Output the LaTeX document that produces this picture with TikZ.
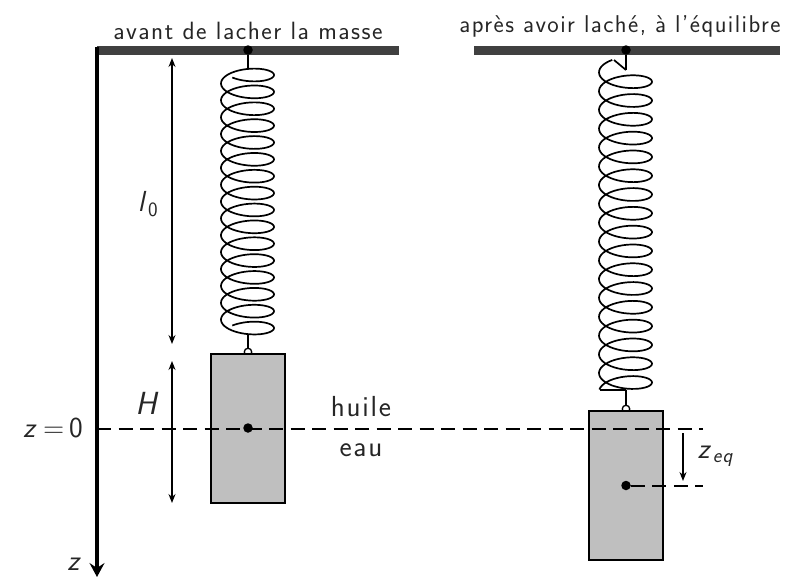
\documentclass[tikz,border=0pt]{standalone}
\usepackage{fontspec}
\setsansfont[LetterSpace=6]{Latin Modern Sans}
\renewcommand{\familydefault}{\sfdefault}
\usetikzlibrary{arrows.meta}
\newcommand{\mycoil}[6]{% cx, y of first tip, pitch, b, t start, t end
  \draw[springline] plot[domain=#5:#6,samples=700] ({#1+26.5*cos(\x)},{#2+#3*(\x/360)-#4*sin(\x)});}
\tikzset{
  bar/.style={fill=black!75,inner sep=0pt,minimum width=#1,minimum height=9pt},
  mass/.style={draw=black,fill=black!25,line width=1.8pt,inner sep=0pt,minimum width=74pt,minimum height=149pt},
  dotnode/.style={circle,fill=black,inner sep=0pt,minimum size=9.5pt},
  hook/.style={circle,draw=black,fill=white,line width=1.3pt,inner sep=0pt,minimum size=7.5pt},
  springline/.style={line width=1.7pt,line join=round},
  rodline/.style={line width=1.8pt},
  dashline/.style={line width=2pt,dash pattern=on 14pt off 7.5pt},
  dimarrow/.style={line width=1.3pt,{Stealth[length=9pt,width=7pt,inset=3pt]}-{Stealth[length=9pt,width=7pt,inset=3pt]}},
  onearrow/.style={line width=1.3pt,-{Stealth[length=9pt,width=7pt,inset=3pt]}},
  axisline/.style={line width=3.2pt,-{Stealth[length=14pt,width=15pt,inset=5pt]}},
  txt/.style={inner sep=0pt,text=black!85,font=\fontsize{25}{30}\selectfont},
  mth/.style={inner sep=0pt,text=black!85,font=\fontsize{29}{34}\selectfont},
}
\begin{document}
\begin{tikzpicture}[x=1pt,y=-1pt]
\useasboundingbox (0,0) rectangle (792,576);
% hooks
\node[hook] (hookL) at (248,352) {};
\node[hook] (hookR) at (626,409) {};
% masses
\node[mass] (massL) at (248,428.5) {};
\node[mass] (massR) at (626,485.5) {};
% bars
\node[bar=302pt] (barL) at (248,50.5) {};
\node[bar=306pt] (barR) at (627,50.5) {};
% points
\node[dotnode] (topL) at (248,50) {};
\node[dotnode] (topR) at (626,50) {};
\node[dotnode] (cmL) at (248,428) {};
\node[dotnode] (cmR) at (626,485.5) {};
% spring attach points
\coordinate (sLa) at (248,69);
\coordinate (sLb) at (248,334);
\coordinate (sRa) at (626,70);
\coordinate (sRb) at (614,60);
\coordinate (sRc) at (599.5,390);
\coordinate (sRd) at (626,390);
% left spring
\draw[rodline] (topL) -- (sLa);
\mycoil{247.5}{75}{16.87}{10.25}{-125}{5525}
\draw[rodline] (sLb) -- (hookL);
% right spring
\draw[rodline] (topR) -- (sRa);
\draw[springline] (sRa) -- (sRb);
\mycoil{625.5}{81.7}{18.8}{10.7}{-240}{5930}
\draw[springline] (sRc) -- (sRd);
\draw[rodline] (sRd) -- (hookR);
% axis
\coordinate (axTop) at (97,47);
\coordinate (axEnd) at (97,577);
\draw[axisline] (axTop) -- (axEnd);
% levels
\coordinate (z0a) at (97,428.5);
\coordinate (z0b) at (703,428.5);
\draw[dashline] (z0a) -- (z0b);
\coordinate (zeqEnd) at (703,485.5);
\draw[dashline] (cmR) -- (zeqEnd);
% dimension arrows
\coordinate (l0a) at (172,58);
\coordinate (l0b) at (172,344);
\coordinate (Ha) at (172,361);
\coordinate (Hb) at (172,503);
\coordinate (za) at (683,433);
\coordinate (zb) at (683,481);
\draw[dimarrow] (l0a) -- (l0b);
\draw[dimarrow] (Ha) -- (Hb);
\draw[onearrow] (za) -- (zb);
% labels
\node[txt] (t1) at (248,31) {avant de lacher la masse};
\node[txt,font=\fontsize{24.3}{29}\selectfont] (t2) at (620,26) {après avoir laché, à l'équilibre};
\node[mth] (l0) at (148,204) {\textit{l}\textsubscript{\upshape 0}};
\node[mth,font=\fontsize{32}{36}\selectfont] (H) at (148,403) {\textit{H}};
\node[mth,anchor=east] (z0) at (83,428) {\textit{z}\,=\,0};
\node[txt,font=\fontsize{29}{33}\selectfont] (oil) at (361,407) {huile};
\node[txt,font=\fontsize{29}{33}\selectfont] (water) at (361,450) {eau};
\node[mth] (zl) at (75,564) {\textit{z}};
\node[mth] (zeq) at (716,456) {\textit{z}\textsubscript{\textit{eq}}};
\end{tikzpicture}
\end{document}
